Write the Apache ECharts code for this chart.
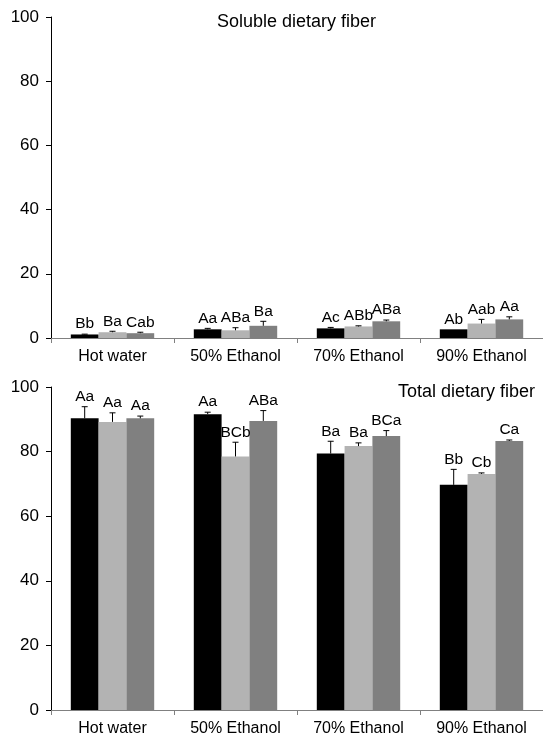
<!DOCTYPE html>
<html>
<head>
<meta charset="utf-8">
<script src="https://cdn.jsdelivr.net/npm/echarts@6/dist/echarts.min.js"></script>
<style>
  html, body { margin: 0; padding: 0; background: #fff; }
  #chart { width: 543px; height: 739px; }
</style>
</head>
<body>
<div id="chart"></div>
<script>
// categories
const categories = ['Hot water', '50% Ethanol', '70% Ethanol', '90% Ethanol'];
const yTicks = [0, 20, 40, 60, 80, 100];

// soluble dietary fiber
const solubleBlack = [1.1, 2.7, 3.0, 2.7];
const solubleBlackErr = [0.1, 0.3, 0.3, 0.0];
const solubleLight = [1.8, 2.4, 3.6, 4.5];
const solubleLightErr = [0.3, 0.8, 0.2, 1.3];
const solubleDark = [1.5, 3.8, 5.2, 5.8];
const solubleDarkErr = [0.3, 1.4, 0.4, 0.8];
const solubleBlackLetters = ['Bb', 'Aa', 'Ac', 'Ab'];
const solubleLightLetters = ['Ba', 'ABa', 'ABb', 'Aab'];
const solubleDarkLetters = ['Cab', 'Ba', 'ABa', 'Aa'];

// total dietary fiber
const totalBlack = [90.3, 91.6, 79.4, 69.7];
const totalBlackErr = [3.6, 0.6, 3.8, 4.8];
const totalLight = [89.2, 78.5, 81.7, 73.1];
const totalLightErr = [2.8, 4.4, 1.0, 0.3];
const totalDark = [90.3, 89.5, 84.8, 83.3];
const totalDarkErr = [0.7, 3.2, 1.7, 0.3];
const totalBlackLetters = ['Aa', 'Aa', 'Ba', 'Bb'];
const totalLightLetters = ['Aa', 'BCb', 'Ba', 'Cb'];
const totalDarkLetters = ['Aa', 'ABa', 'BCa', 'Ca'];

const font = 'Liberation Sans, Arial, sans-serif';
const barW = 27.8;
const colors = ['#000000', '#b3b3b3', '#808080'];

function barSeries(idx, values, color) {
  return {
    type: 'bar',
    xAxisIndex: idx, yAxisIndex: idx,
    data: values,
    barWidth: barW,
    barGap: '0%',
    itemStyle: { color: color },
    silent: true,
    z: 2
  };
}

// error bar + letters drawn on top of each bar
function errSeries(idx, values, errs, letters, slot) {
  return {
    type: 'custom',
    xAxisIndex: idx, yAxisIndex: idx,
    data: values.map((v, i) => [i, v, errs[i]]),
    encode: { x: 0, y: 1 },
    z: 5,
    silent: true,
    renderItem: function (params, api) {
      const i = params.dataIndex;
      const v = api.value(1);
      const e = api.value(2);
      const p0 = api.coord([api.value(0), v]);
      const p1 = api.coord([api.value(0), v + e]);
      const cx = p0[0] + (slot - 1) * barW;
      const children = [];
      if (e > 0) {
        children.push({
          type: 'line',
          shape: { x1: cx, y1: p0[1], x2: cx, y2: p1[1] },
          style: { stroke: '#000', lineWidth: 1 }
        });
        children.push({
          type: 'line',
          shape: { x1: cx - 3, y1: p1[1], x2: cx + 3, y2: p1[1] },
          style: { stroke: '#000', lineWidth: 1 }
        });
      }
      children.push({
        type: 'text',
        style: {
          text: letters[i], x: cx, y: p1[1] - 2,
          align: 'center', verticalAlign: 'bottom',
          fontSize: 15.5, fontFamily: font, fill: '#000'
        }
      });
      return { type: 'group', children: children };
    }
  };
}

function xAxis(idx) {
  return {
    type: 'category', gridIndex: idx, data: categories,
    axisLine: { lineStyle: { color: '#808080', width: 1 } },
    axisTick: { show: true, alignWithLabel: false, length: 5, lineStyle: { color: '#808080' } },
    axisLabel: { fontSize: 16, color: '#000', fontFamily: font, margin: 11 },
    splitLine: { show: false }
  };
}

function yAxis(idx) {
  return {
    type: 'value', gridIndex: idx,
    min: yTicks[0], max: yTicks[yTicks.length - 1], interval: yTicks[1] - yTicks[0],
    axisLine: { show: true, lineStyle: { color: '#000', width: 1 } },
    axisTick: { show: true, length: 5, lineStyle: { color: '#000' } },
    axisLabel: { fontSize: 17, color: '#000', fontFamily: font, margin: 12 },
    splitLine: { show: false }
  };
}

const chart = echarts.init(document.getElementById('chart'));
chart.setOption({
  animation: false,
  backgroundColor: '#fff',
  title: [
    {
      text: 'Soluble dietary fiber', left: 212, top: 8,
      textStyle: { fontSize: 18, fontWeight: 'normal', color: '#000', fontFamily: font }
    },
    {
      text: 'Total dietary fiber', right: 3, top: 378,
      textStyle: { fontSize: 18, fontWeight: 'normal', color: '#000', fontFamily: font }
    }
  ],
  grid: [
    { left: 51, top: 17, width: 492, height: 321 },
    { left: 51, top: 387, width: 492, height: 323 }
  ],
  xAxis: [xAxis(0), xAxis(1)],
  yAxis: [yAxis(0), yAxis(1)],
  series: [
    barSeries(0, solubleBlack, colors[0]),
    barSeries(0, solubleLight, colors[1]),
    barSeries(0, solubleDark, colors[2]),
    errSeries(0, solubleBlack, solubleBlackErr, solubleBlackLetters, 0),
    errSeries(0, solubleLight, solubleLightErr, solubleLightLetters, 1),
    errSeries(0, solubleDark, solubleDarkErr, solubleDarkLetters, 2),
    barSeries(1, totalBlack, colors[0]),
    barSeries(1, totalLight, colors[1]),
    barSeries(1, totalDark, colors[2]),
    errSeries(1, totalBlack, totalBlackErr, totalBlackLetters, 0),
    errSeries(1, totalLight, totalLightErr, totalLightLetters, 1),
    errSeries(1, totalDark, totalDarkErr, totalDarkLetters, 2)
  ]
});
</script>
</body>
</html>
